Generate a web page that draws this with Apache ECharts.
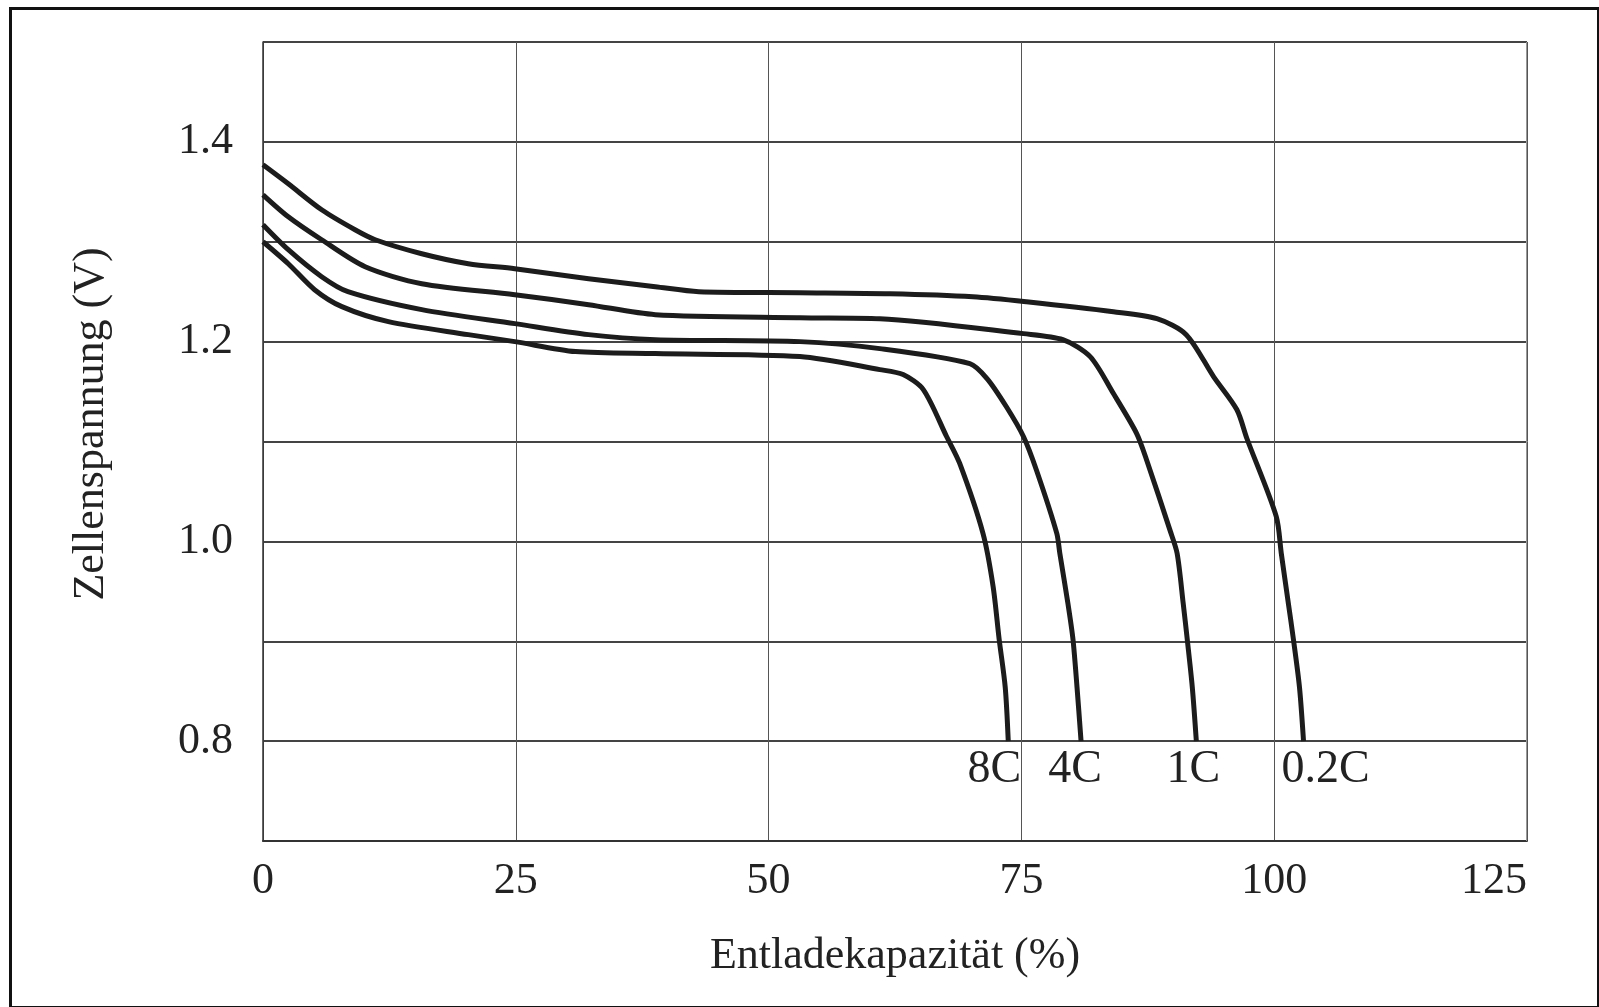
<!DOCTYPE html>
<html>
<head>
<meta charset="utf-8">
<script src="https://cdn.jsdelivr.net/npm/echarts@6/dist/echarts.min.js"></script>
<style>
html,body{margin:0;padding:0;background:#fff;}
#chart{width:1599px;height:1007px;}
</style>
</head>
<body>
<div id="chart"></div>
<script>
// Discharge curves: x = Entladekapazität (%), y = Zellenspannung (V)
const seriesNames = ['0.2C', '1C', '4C', '8C'];
const c02X = [0, 2.5, 5.8, 9.1, 11.1, 15.7, 20.3, 24.9, 32.2, 38.8, 43.1, 53.1, 62, 70.2, 75.5, 84.1, 88.4, 91.3, 94.0, 96.3, 97.3, 100.2, 100.7, 101.4, 101.9, 102.5, 102.9];
const c02Y = [1.377, 1.358, 1.332, 1.312, 1.302, 1.288, 1.278, 1.273, 1.263, 1.255, 1.250, 1.249, 1.248, 1.245, 1.240, 1.230, 1.223, 1.207, 1.165, 1.132, 1.103, 1.025, 0.988, 0.938, 0.902, 0.854, 0.80];
const c1X = [0, 2.5, 5.8, 10.1, 15.7, 24.9, 32.2, 38.8, 53.1, 61.0, 75.2, 79.1, 81.8, 84.1, 86.4, 87.4, 89.7, 90.4, 91.0, 91.4, 91.9, 92.3];
const c1Y = [1.347, 1.325, 1.302, 1.275, 1.258, 1.247, 1.237, 1.227, 1.224, 1.223, 1.208, 1.202, 1.185, 1.148, 1.108, 1.081, 1.011, 0.988, 0.938, 0.902, 0.854, 0.80];
const c4X = [0, 2.5, 5.8, 8.4, 15.7, 24.9, 32.2, 38.8, 53.1, 61.0, 69.9, 71.6, 73.5, 75.2, 76.5, 78.5, 78.8, 79.6, 80.1, 80.5, 80.9];
const c4Y = [1.317, 1.292, 1.265, 1.250, 1.232, 1.218, 1.207, 1.202, 1.200, 1.193, 1.178, 1.163, 1.135, 1.105, 1.071, 1.008, 0.988, 0.938, 0.902, 0.854, 0.80];
const c8X = [0, 2.5, 5.1, 7.8, 12.4, 20.3, 24.9, 30.9, 38.8, 53.1, 61.0, 63.3, 65.3, 67.6, 68.9, 71.2, 72.2, 72.8, 73.4, 73.7];
const c8Y = [1.300, 1.278, 1.252, 1.235, 1.220, 1.207, 1.200, 1.190, 1.188, 1.185, 1.172, 1.167, 1.152, 1.105, 1.078, 1.008, 0.955, 0.902, 0.854, 0.80];
const yTickLabels = ['0.8', '1.0', '1.2', '1.4'];
const xTickLabels = ['0', '25', '50', '75', '100', '125'];
const xTitle = 'Entladekapazität (%)';
const yTitle = 'Zellenspannung (V)';

const curves = [[c02X, c02Y], [c1X, c1Y], [c4X, c4Y], [c8X, c8Y]];
const labelDx = [22, -3, -6, -14];
const FONT = 'Liberation Serif';
const TXT = '#222';

const chart = echarts.init(document.getElementById('chart'), null, {renderer: 'canvas'});

const series = curves.map((c, i) => {
  const data = c[0].map((x, k) => [x, c[1][k]]);
  const last = data[data.length - 1];
  return {
    name: seriesNames[i],
    type: 'line',
    data: data,
    showSymbol: false,
    symbol: 'none',
    smooth: 0.28,
    lineStyle: {color: '#1c1c1c', width: 5, join: 'round'},
    z: 5,
    markPoint: {
      symbol: 'circle',
      symbolSize: 1,
      itemStyle: {color: 'rgba(0,0,0,0)'},
      silent: true,
      data: [{
        coord: last,
        label: {
          show: true,
          position: 'inside',
          offset: [labelDx[i], 29],
          formatter: seriesNames[i],
          color: TXT,
          fontFamily: FONT,
          fontSize: 46
        }
      }]
    }
  };
});

const option = {
  animation: false,
  backgroundColor: '#ffffff',
  grid: {left: 263, right: 72, top: 42, bottom: 166, show: false},
  xAxis: {
    type: 'value',
    min: 0, max: 125, interval: 25,
    axisLine: {show: true, lineStyle: {color: '#333', width: 2}},
    axisTick: {show: false},
    splitLine: {show: true, lineStyle: {color: '#555', width: 1}},
    axisLabel: {
      color: TXT, fontFamily: FONT, fontSize: 44, margin: 18,
      alignMaxLabel: 'right',
      formatter: v => xTickLabels.includes(String(v)) ? String(v) : ''
    },
    name: xTitle,
    nameLocation: 'middle',
    nameGap: 93,
    nameTextStyle: {color: TXT, fontFamily: FONT, fontSize: 44}
  },
  yAxis: {
    type: 'value',
    min: 0.7, max: 1.5, interval: 0.1,
    axisLine: {show: true, lineStyle: {color: '#333', width: 1.5}},
    axisTick: {show: false},
    splitLine: {show: true, lineStyle: {color: '#444', width: 2}},
    axisLabel: {
      color: TXT, fontFamily: FONT, fontSize: 44, margin: 30,
      formatter: v => { const s = v.toFixed(1); return yTickLabels.includes(s) ? s : ''; }
    },
    name: yTitle,
    nameLocation: 'middle',
    nameGap: 150,
    nameRotate: 90,
    nameTextStyle: {color: TXT, fontFamily: FONT, fontSize: 44, padding: [0, 0, 0, 35]}
  },
  graphic: [
    {type: 'rect', left: 8, top: 6, shape: {width: 1588, height: 999},
     style: {fill: 'none', stroke: '#111', lineWidth: 3}, z: 100, silent: true},
    {type: 'rect', left: 1526, top: 42, shape: {width: 1, height: 799},
     style: {fill: '#999'}, z: 10, silent: true}
  ],
  series: series
};
chart.setOption(option);
</script>
</body>
</html>
